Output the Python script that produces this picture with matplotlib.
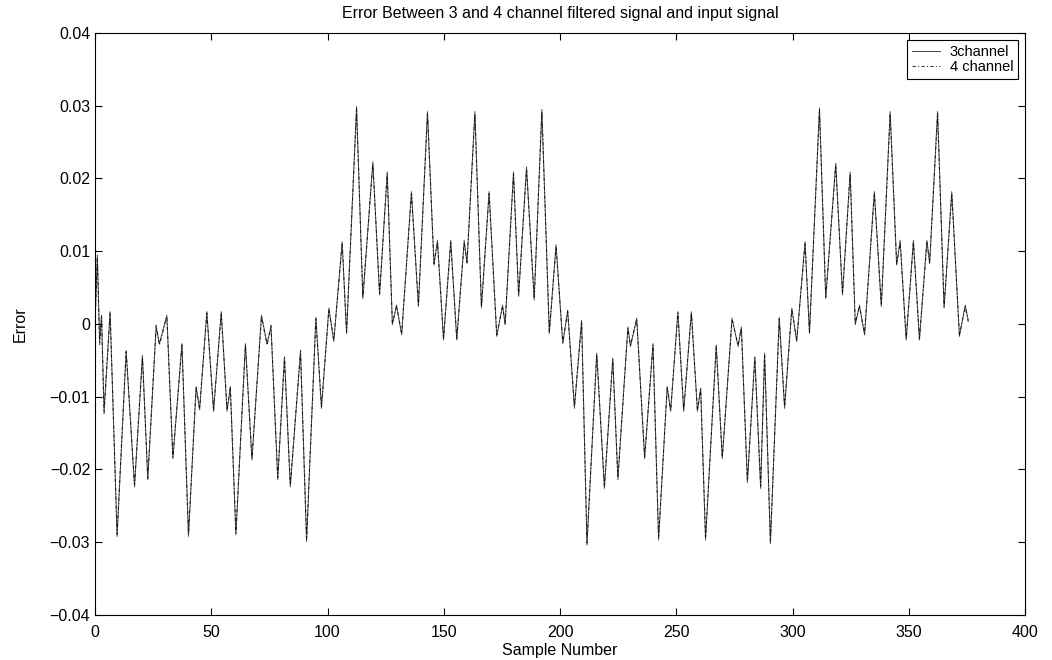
import matplotlib
matplotlib.use('Agg')
import matplotlib.pyplot as plt

# keypoints (sample number, error)
samples = [0, 1.0, 2.0, 2.8, 3.9, 6.5, 9.5, 13.4, 17.0, 20.4, 22.7, 26.3, 27.7, 30.9,
           33.5, 37.4, 40.2, 43.5, 45.0, 48.1, 51.0, 54.3, 56.8, 58.2, 60.6, 64.7,
           67.5, 71.6, 74.0, 75.7, 78.6, 81.5, 84.0, 88.4, 91.0, 95.0, 97.4, 100.6,
           102.7, 106.3, 108.2, 112.5, 115.2, 119.5, 122.4, 125.7, 127.9, 129.7,
           131.9, 136.1, 139.1, 143.0, 145.8, 147.3, 149.9, 153.0, 155.6, 158.8,
           160.0, 163.4, 166.2, 169.5, 172.8, 175.3, 176.4, 180.0, 182.2, 185.6,
           188.9, 192.2, 195.4, 198.3, 201.2, 203.3, 206.2, 209.3, 211.6, 215.8,
           219.1, 222.7, 224.9, 229.2, 230.3, 233.0, 236.4, 240.0, 242.4, 246.1,
           247.6, 250.7, 253.2, 256.5, 259.1, 260.5, 262.6, 267.2, 269.8, 274.0,
           276.6, 278.0, 280.6, 283.8, 286.3, 288.0, 290.5, 294.3, 296.6, 299.7,
           301.8, 305.4, 307.3, 311.6, 314.3, 318.6, 321.5, 324.8, 327.0, 328.8,
           331.0, 335.2, 338.2, 342.0, 344.8, 346.3, 348.9, 352.0, 354.6, 357.8,
           359.0, 362.4, 365.2, 368.5, 371.8, 374.3, 375.6]

err_3ch = [0.0, 0.0095, -0.0025, 0.0012, -0.012, 0.0017, -0.0292, -0.0038, -0.0224,
           -0.0043, -0.0214, -0.0004, -0.0027, 0.0012, -0.0185, -0.0027, -0.0292,
           -0.0086, -0.0118, 0.0017, -0.012, 0.0017, -0.012, -0.0086, -0.029,
           -0.0027, -0.0187, 0.0012, -0.0027, -0.0004, -0.0214, -0.0045, -0.0224,
           -0.0038, -0.0299, 0.0009, -0.0116, 0.0022, -0.0024, 0.0113, -0.0013,
           0.0299, 0.0035, 0.0223, 0.004, 0.0209, -0.0001, 0.0026, -0.0015, 0.0182,
           0.0024, 0.0292, 0.0081, 0.0115, -0.0022, 0.0115, -0.0022, 0.0115, 0.0083,
           0.0292, 0.0022, 0.0182, -0.0017, 0.0026, -0.0001, 0.0209, 0.0038, 0.0216,
           0.0033, 0.0295, -0.0013, 0.0109, -0.0027, 0.0019, -0.0116, 0.0005,
           -0.0304, -0.004, -0.0226, -0.0047, -0.0214, -0.0004, -0.0031, 0.0008,
           -0.0185, -0.0027, -0.0297, -0.0086, -0.012, 0.0017, -0.012, 0.0017,
           -0.012, -0.0088, -0.0297, -0.0029, -0.0185, 0.0008, -0.0031, -0.0004,
           -0.0218, -0.0045, -0.0226, -0.0040, -0.0302, 0.0009, -0.0116, 0.0022,
           -0.0024, 0.0113, -0.0013, 0.0297, 0.0035, 0.0221, 0.004, 0.0209, -0.0001,
           0.0026, -0.0015, 0.0182, 0.0024, 0.0292, 0.0081, 0.0115, -0.0022, 0.0115,
           -0.0022, 0.0115, 0.0083, 0.0292, 0.0022, 0.0182, -0.0017, 0.0026, 0.0005]

# second filter bank -- practically on top of the first one
err_4ch = [0.0, 0.0090, -0.0028, 0.0010, -0.0123, 0.0015, -0.0289, -0.0036, -0.0221,
           -0.0046, -0.0212, -0.0002, -0.0029, 0.0010, -0.0183, -0.0029, -0.0289,
           -0.0088, -0.0116, 0.0015, -0.0118, 0.0015, -0.0118, -0.0088, -0.0287,
           -0.0029, -0.0185, 0.0010, -0.0029, -0.0002, -0.0211, -0.0047, -0.0221,
           -0.0036, -0.0296, 0.0007, -0.0113, 0.0020, -0.0022, 0.0110, -0.0011,
           0.0296, 0.0037, 0.0220, 0.0042, 0.0206, 0.0001, 0.0024, -0.0013, 0.0179,
           0.0026, 0.0289, 0.0083, 0.0112, -0.0020, 0.0112, -0.0020, 0.0112, 0.0085,
           0.0289, 0.0024, 0.0179, -0.0015, 0.0024, 0.0001, 0.0206, 0.0040, 0.0213,
           0.0035, 0.0292, -0.0011, 0.0106, -0.0025, 0.0017, -0.0113, 0.0003,
           -0.0301, -0.0042, -0.0223, -0.0049, -0.0211, -0.0006, -0.0029, 0.0006,
           -0.0183, -0.0029, -0.0294, -0.0088, -0.0118, 0.0015, -0.0118, 0.0015,
           -0.0118, -0.0090, -0.0294, -0.0031, -0.0183, 0.0006, -0.0029, -0.0006,
           -0.0215, -0.0047, -0.0223, -0.0042, -0.0299, 0.0007, -0.0113, 0.0020,
           -0.0022, 0.0110, -0.0011, 0.0294, 0.0037, 0.0218, 0.0042, 0.0206, 0.0001,
           0.0024, -0.0013, 0.0179, 0.0026, 0.0289, 0.0083, 0.0112, -0.0020, 0.0112,
           -0.0020, 0.0112, 0.0085, 0.0289, 0.0024, 0.0179, -0.0015, 0.0024, 0.0003]

xticks = [0, 50, 100, 150, 200, 250, 300, 350, 400]
yticks = [-0.04, -0.03, -0.02, -0.01, 0, 0.01, 0.02, 0.03, 0.04]
ytick_labels = ['\u22120.04', '\u22120.03', '\u22120.02', '\u22120.01', '0',
                '0.01', '0.02', '0.03', '0.04']

plt.rcParams['font.family'] = ['Liberation Sans', 'DejaVu Sans']

fig = plt.figure(figsize=(10.52, 6.6), dpi=100)
ax = fig.add_axes([95/1052, 1 - 615/660, 930/1052, 582/660])

ax.plot(samples, err_3ch, color='black', lw=0.7, ls='-', alpha=0.7, label='3channel')
ax.plot(samples, err_4ch, color='black', lw=0.8, ls=(0, (3, 2, 1, 2)), alpha=0.75,
        label='4 channel')

ax.set_xlim(0, 400)
ax.set_ylim(-0.04, 0.04)
ax.set_xticks(xticks)
ax.set_yticks(yticks)
ax.set_yticklabels(ytick_labels)
ax.tick_params(direction='in', top=True, right=True, length=5, labelsize=11.5)
ax.tick_params(axis='x', pad=7)
for s in ax.spines.values():
    s.set_linewidth(0.8)

ax.set_title('Error Between 3 and 4 channel filtered signal and input signal',
             fontsize=11.5, pad=11)
ax.set_xlabel('Sample Number', fontsize=11.5, labelpad=2)
ax.set_ylabel('Error', fontsize=11.5, labelpad=16)

leg = ax.legend(loc='upper right', fontsize=10.5, fancybox=False, framealpha=1,
                edgecolor='black', borderaxespad=0.5, handlelength=1.9,
                borderpad=0.3, labelspacing=0.1, handletextpad=0.7)
leg.get_frame().set_linewidth(0.8)

fig.savefig('out.png', dpi=100)
